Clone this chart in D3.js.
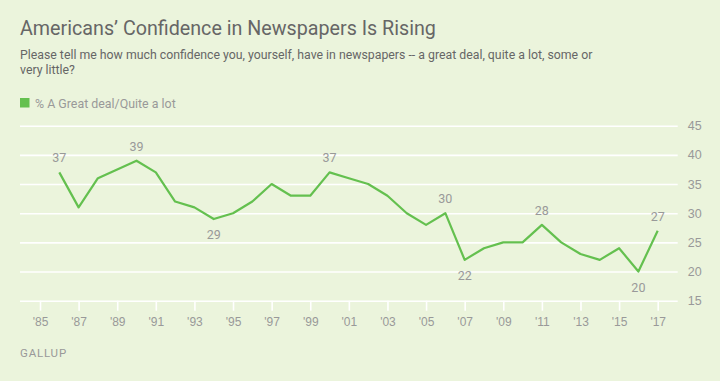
<!DOCTYPE html>
<html>
<head>
<meta charset="utf-8">
<script src="https://cdn.jsdelivr.net/npm/d3@7"></script>
<style>
  body { margin: 0; background: #ebf4dc; }
  svg { display: block; font-family: Roboto, "Noto Sans", sans-serif; }
</style>
</head>
<body>
<div id="chart"></div>
<script>
// Gallup: % A great deal/Quite a lot, confidence in newspapers
const years = [1986, 1987, 1988, 1990, 1991, 1992, 1993, 1994, 1995, 1996, 1997, 1998, 1999, 2000,
               2001, 2002, 2003, 2004, 2005, 2006, 2007, 2008, 2009, 2010, 2011, 2012, 2013, 2014,
               2015, 2016, 2017];
const values = [37, 31, 36, 39, 37, 32, 31, 29, 30, 32, 35, 33, 33, 37,
                36, 35, 33, 30, 28, 30, 22, 24, 25, 25, 28, 25, 23, 22,
                24, 20, 27];
// labelled points and where the label sits
const labelYears = [1986, 1990, 1994, 2000, 2006, 2007, 2011, 2016, 2017];
const labelSide  = ["up", "up", "down", "up", "up", "down", "up", "down", "up"];
const yTicks = [15, 20, 25, 30, 35, 40, 45];
const xTicks = [1985, 1987, 1989, 1991, 1993, 1995, 1997, 1999, 2001, 2003, 2005, 2007, 2009, 2011, 2013, 2015, 2017];

const title = "Americans\u2019 Confidence in Newspapers Is Rising";
const subtitle = ["Please tell me how much confidence you, yourself, have in newspapers -- a great deal, quite a lot, some or",
                  "very little?"];
const seriesName = "% A Great deal/Quite a lot";

const width = 720, height = 381;
const green = "#64c04f";
const grey = "#999999";

const svg = d3.select("#chart").append("svg")
    .attr("width", width)
    .attr("height", height);

svg.append("rect").attr("width", width).attr("height", height).attr("fill", "#ebf4dc");

// header
svg.append("text")
    .attr("x", 20).attr("y", 34.5)
    .attr("font-size", 19.7)
    .attr("fill", "#666")
    .text(title);

svg.selectAll(".sub").data(subtitle).enter().append("text")
    .attr("class", "sub")
    .attr("x", 20).attr("y", (d, i) => 58.5 + i * 15.5)
    .attr("font-size", 12.3)
    .attr("fill", "#666")
    .text(d => d);

svg.append("rect")
    .attr("x", 20).attr("y", 98).attr("width", 9.5).attr("height", 9.5)
    .attr("fill", green);
svg.append("text")
    .attr("x", 35).attr("y", 107.5)
    .attr("font-size", 12.4)
    .attr("fill", grey)
    .text(seriesName);

// scales
const x = d3.scaleLinear().domain([1985, 2017]).range([40, 657.7]);
const y = d3.scaleLinear().domain([15, 45]).range([300.7, 125.7]);
const gridLeft = 20, gridRight = 677.7;

// y grid + labels on the right
const yAxis = d3.axisRight(y)
    .tickValues(yTicks)
    .tickSize(-(gridRight - gridLeft))
    .tickPadding(10);

const gy = svg.append("g")
    .attr("transform", "translate(" + gridRight + ",0)")
    .call(yAxis);
gy.select(".domain").remove();
gy.selectAll("line").attr("stroke", "#fff").attr("stroke-width", 1.6);
gy.selectAll("text").attr("fill", grey).attr("font-size", 12.5).attr("font-family", null);

// x ticks
const xAxis = d3.axisBottom(x)
    .tickValues(xTicks)
    .tickSize(10)
    .tickPadding(6.5)
    .tickFormat(d => "'" + String(d).slice(2));

const gx = svg.append("g")
    .attr("transform", "translate(0," + y(15) + ")")
    .call(xAxis);
gx.select(".domain").remove();
gx.selectAll("line").attr("stroke", "#fff").attr("stroke-width", 1.6);
gx.selectAll("text").attr("fill", grey).attr("font-size", 12).attr("font-family", null);

// line
const points = years.map((yr, i) => ({ year: yr, value: values[i] }));

const line = d3.line()
    .x(d => x(d.year))
    .y(d => y(d.value));

svg.append("path")
    .datum(points)
    .attr("fill", "none")
    .attr("stroke", green)
    .attr("stroke-width", 2.2)
    .attr("stroke-linejoin", "round")
    .attr("d", line);

// point labels
const labels = labelYears.map((yr, i) => ({
    year: yr,
    value: values[years.indexOf(yr)],
    side: labelSide[i]
}));

svg.selectAll(".lbl").data(labels).enter().append("text")
    .attr("class", "lbl")
    .attr("x", d => x(d.year))
    .attr("y", d => d.side === "up" ? y(d.value) - 10 : y(d.value) + 20)
    .attr("text-anchor", "middle")
    .attr("font-size", 12.5)
    .attr("fill", grey)
    .text(d => d.value);

// footer
svg.append("text")
    .attr("x", 20).attr("y", 357)
    .attr("font-size", 11.5)
    .attr("letter-spacing", 0.8)
    .attr("fill", grey)
    .text("GALLUP");
</script>
</body>
</html>
